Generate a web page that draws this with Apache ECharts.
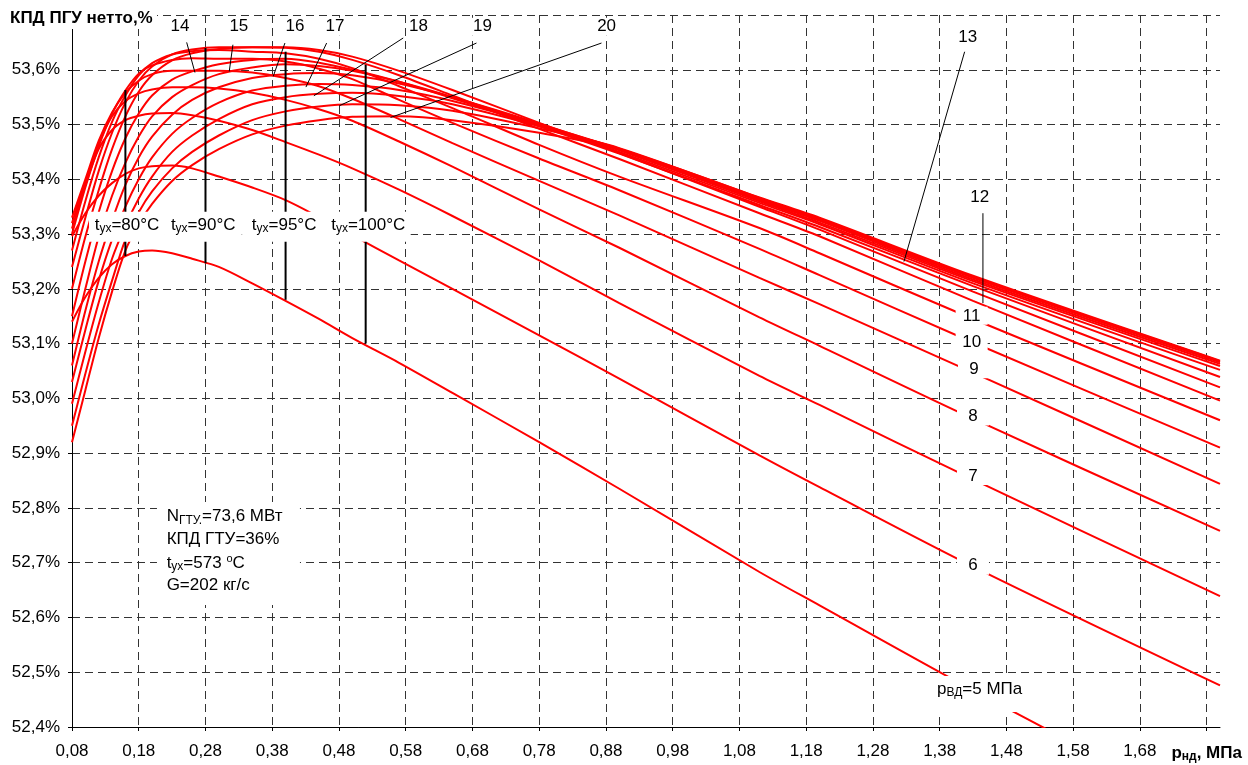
<!DOCTYPE html>
<html><head><meta charset="utf-8">
<script src="https://cdn.jsdelivr.net/npm/echarts@6/dist/echarts.min.js"></script>
<style>html,body{margin:0;padding:0;background:#fff}#c{width:1248px;height:765px}</style>
</head><body><div id="c"></div>
<script>
// ---------- DATA ----------
const pND = [0.08,0.10,0.12,0.14,0.16,0.18,0.20,0.23,0.26,0.30,0.35,0.40,0.45,0.50,0.57,0.65,0.78,0.90,1.11,1.20,1.43,1.80];
const kpdP5  = [53.14,53.185,53.22,53.245,53.26,53.268,53.27,53.265,53.255,53.24,53.21,53.178,53.145,53.11,53.065,53.01,52.92,52.835,52.683,52.622,52.467,52.23];
const kpdP6  = [53.296,53.338,53.37,53.393,53.41,53.42,53.424,53.425,53.42,53.405,53.385,53.362,53.331,53.298,53.252,53.2,53.115,53.036,52.896,52.838,52.693,52.476];
const kpdP7  = [53.31,53.39,53.455,53.49,53.508,53.516,53.52,53.521,53.517,53.507,53.49,53.468,53.445,53.42,53.381,53.333,53.252,53.174,53.041,52.988,52.852,52.639];
const kpdP8  = [53.32,53.395,53.465,53.515,53.543,53.557,53.564,53.568,53.568,53.566,53.558,53.545,53.528,53.507,53.469,53.423,53.345,53.275,53.148,53.096,52.963,52.758];
const kpdP9  = [53.33,53.40,53.47,53.522,53.558,53.58,53.592,53.598,53.598,53.598,53.595,53.585,53.57,53.547,53.51,53.466,53.397,53.334,53.220,53.172,53.047,52.844];
const kpdP10 = [53.30,53.385,53.46,53.52,53.562,53.593,53.608,53.618,53.621,53.62,53.62,53.615,53.602,53.583,53.545,53.503,53.438,53.38,53.273,53.225,53.102,52.910];
const kpdP11 = [53.27,53.36,53.44,53.505,53.553,53.59,53.612,53.628,53.634,53.636,53.633,53.63,53.62,53.603,53.57,53.53,53.463,53.405,53.311,53.265,53.145,52.960];
const kpdP12 = [53.24,53.33,53.415,53.485,53.54,53.58,53.606,53.628,53.637,53.641,53.641,53.64,53.633,53.618,53.59,53.553,53.492,53.437,53.338,53.296,53.178,52.996];
const kpdP13 = [53.20,53.295,53.38,53.455,53.515,53.56,53.59,53.617,53.63,53.638,53.641,53.641,53.636,53.624,53.598,53.563,53.503,53.448,53.35,53.308,53.195,53.020];
const kpdP14 = [53.15,53.25,53.34,53.415,53.475,53.52,53.553,53.582,53.597,53.61,53.618,53.62,53.613,53.60,53.578,53.548,53.497,53.447,53.353,53.313,53.205,53.039];
const kpdP15 = [53.10,53.20,53.295,53.37,53.43,53.478,53.515,53.55,53.572,53.592,53.604,53.61,53.607,53.598,53.578,53.55,53.50,53.45,53.357,53.318,53.21,53.052];
const kpdP16 = [53.06,53.16,53.25,53.325,53.39,53.44,53.478,53.518,53.545,53.568,53.585,53.592,53.594,53.59,53.575,53.55,53.502,53.453,53.36,53.321,53.214,53.059];
const kpdP17 = [53.03,53.125,53.215,53.29,53.35,53.40,53.44,53.483,53.512,53.54,53.562,53.571,53.574,53.572,53.563,53.543,53.50,53.455,53.362,53.324,53.217,53.063];
const kpdP18 = [52.99,53.085,53.175,53.255,53.315,53.365,53.405,53.45,53.48,53.51,53.537,53.55,53.556,53.558,53.552,53.537,53.497,53.456,53.364,53.326,53.22,53.066];
const kpdP19 = [52.95,53.045,53.135,53.215,53.29,53.34,53.378,53.42,53.45,53.48,53.508,53.524,53.533,53.537,53.535,53.525,53.493,53.457,53.366,53.328,53.222,53.068];
const kpdP20 = [52.92,53.015,53.11,53.195,53.27,53.318,53.355,53.397,53.426,53.455,53.482,53.498,53.508,53.514,53.515,53.508,53.485,53.455,53.367,53.33,53.224,53.069];
const curveNames = ['5','6','7','8','9','10','11','12','13','14','15','16','17','18','19','20'];
const curves = [kpdP5,kpdP6,kpdP7,kpdP8,kpdP9,kpdP10,kpdP11,kpdP12,kpdP13,kpdP14,kpdP15,kpdP16,kpdP17,kpdP18,kpdP19,kpdP20];

// constant exhaust-temperature lines (pНД, КПД from..to)
const tuxTemps = ['80','90','95','100'];
const tuxP     = [0.16, 0.28, 0.40, 0.52];
const tuxLow   = [53.260, 53.247, 53.180, 53.100];
const tuxHigh  = [53.563, 53.640, 53.633, 53.609];

// axis ranges
const xMin = 0.08, xMax = 1.80, xStep = 0.1;
const yMin = 52.4, yMax = 53.7, yStep = 0.1;

// ---------- ANNOTATIONS (data coordinates) ----------
const leaderFrom = {'12':[1.4448,53.3381],'13':[1.4174,53.6329],'14':[0.2518,53.650],'15':[0.3211,53.6457],'16':[0.399,53.6488],'17':[0.4615,53.6488],'18':[0.5762,53.658],'19':[0.686,53.6488],'20':[0.8733,53.6488]};
const leaderTo   = {'12':[1.4448,53.1739],'13':[1.3265,53.2499],'14':[0.2642,53.595],'15':[0.3156,53.5969],'16':[0.3815,53.5878],'17':[0.4305,53.5684],'18':[0.4424,53.5525],'19':[0.4803,53.5342],'20':[0.5573,53.5129]};
const numLabelAt = {'6':[1.4299,52.6946],'7':[1.4299,52.8583],'8':[1.4299,52.9669],'9':[1.4314,53.0532],'10':[1.4279,53.1023],'11':[1.4279,53.1507],
  '12':[1.4399,53.3677],'13':[1.4219,53.6584],'14':[0.2417,53.6785],'15':[0.330,53.6785],'16':[0.414,53.6785],'17':[0.474,53.6785],'18':[0.599,53.6785],'19':[0.695,53.6785],'20':[0.881,53.6785]};
const tuxLabelAt = [[0.1624,53.3169],[0.2766,53.3169],[0.3978,53.3169],[0.5238,53.3169]];
const pvdLabelAt = [1.4399,52.4694];
const infoAt = [0.2218, [52.7845,52.742,52.6993,52.659]];
const infoBox = [[0.2073,52.811],[0.4215,52.6228]];

// ---------- CHART ----------
const FONT = '"Liberation Sans", Arial, Helvetica, sans-serif';
const FS = 17, FSS = 12;
const chart = echarts.init(document.getElementById('c'));
const series = curves.map((vals, i) => ({
  type:'line', name:'pВД='+curveNames[i], data: pND.map((p,j)=>[p, vals[j]]),
  smooth:0.3, showSymbol:false, silent:true, clip:true,
  lineStyle:{color:'#ff0000', width:2}, z:2
}));
tuxP.forEach((p,i)=>series.push({type:'line', data:[[p,tuxLow[i]],[p,tuxHigh[i]]], showSymbol:false, silent:true,
  lineStyle:{color:'#000', width:2}, z:3}));
Object.keys(leaderFrom).forEach(k=>series.push({type:'line', data:[leaderFrom[k], leaderTo[k]], showSymbol:false, silent:true,
  lineStyle:{color:'#000', width:1}, z:3}));

const dash = {type:[8,5], color:'#333', width:1};
chart.setOption({
  animation:false,
  backgroundColor:'#fff',
  grid:{left:72, right:28, top:15, bottom:38, containLabel:false},
  xAxis:{type:'value', min:xMin, max:xMax, interval:xStep,
    axisLine:{lineStyle:{color:'#000', width:1}},
    axisTick:{show:true, length:4, inside:false, lineStyle:{color:'#000'}},
    splitLine:{show:true, showMaxLine:false, lineStyle:dash},
    axisLabel:{showMaxLabel:false, margin:16, fontSize:FS, fontFamily:FONT, color:'#000',
      formatter:v=>{const r=Math.round(v*100)/100; if (Math.abs(r-1.78)<1e-6) return '{b|p}{bs|нд}{b|, МПа}'; if (r>1.79) return ''; return r.toFixed(2).replace('.',',');},
      rich:{b:{fontSize:FS, fontWeight:'bold', fontFamily:FONT, color:'#000'}, bs:{fontSize:FSS, fontWeight:'bold', fontFamily:FONT, color:'#000', padding:[8,0,0,0]}}}
  },
  yAxis:{type:'value', min:yMin, max:yMax, interval:yStep,
    axisLine:{show:true, lineStyle:{color:'#000', width:1}},
    axisTick:{show:true, length:4, inside:false, lineStyle:{color:'#000'}},
    splitLine:{show:true, lineStyle:dash},
    axisLabel:{showMaxLabel:false, margin:12, fontSize:FS, fontFamily:FONT, color:'#000',
      formatter:v=>v.toFixed(1).replace('.',',')+'%'}
  },
  series
});

// ---------- TEXT ANNOTATIONS ----------
const px = (d)=>chart.convertToPixel({xAxisIndex:0, yAxisIndex:0}, d);
const R = {
  n:{fontSize:FS, fontFamily:FONT, fill:'#000'},
  s:{fontSize:FSS, fontFamily:FONT, fill:'#000', padding:[8,0,0,0]},
  sup:{fontSize:11, fontFamily:FONT, fill:'#000', padding:[0,0,9,0]},
  b:{fontSize:FS, fontFamily:FONT, fontWeight:'bold', fill:'#000'}
};
const g = [];
function box(cx, cy, w, h){ g.push({type:'rect', silent:true, z:50, shape:{x:cx-w/2, y:cy-h/2, width:w, height:h}, style:{fill:'#fff'}}); }
function txt(x, y, text, align){ g.push({type:'text', silent:true, z:51, x, y, style:{text, rich:R, fontSize:FS, fontFamily:FONT, fill:'#000', align:align||'center', verticalAlign:'middle'}}); }

// title
g.push({type:'rect', silent:true, z:50, shape:{x:0, y:0, width:157, height:29}, style:{fill:'#fff'}});
txt(10, 18.5, '{b|КПД ПГУ нетто,%}', 'left');

// t_ух labels
const tuxW = [76, 77, 84, 85];
tuxLabelAt.forEach((d,i)=>{const [x,y]=px(d); box(x, y+2, tuxW[i], 30); txt(x, y, '{n|t}{s|ух}{n|='+tuxTemps[i]+'°C}');});

// curve number labels
Object.keys(numLabelAt).forEach(k=>{const [x,y]=px(numLabelAt[k]); const n=+k;
  if (n<=11) box(x, y, 32, 18); else box(x, y, 24, 18);
  txt(x, y, '{n|'+k+'}');});

// p_ВД = 5 MPa
{const [x,y]=px(pvdLabelAt); box(x+0.5, y+5, 90, 36); txt(x, y, '{n|p}{s|ВД}{n|=5 МПа}');}

// info block
{const a=px(infoBox[0]), b=px(infoBox[1]); g.push({type:'rect', silent:true, z:50, shape:{x:a[0], y:a[1], width:b[0]-a[0], height:b[1]-a[1]}, style:{fill:'#fff'}});
 const rows=['{n|N}{s|ГТУ.}{n|=73,6 МВт}','{n|КПД ГТУ=36%}','{n|t}{s|ух}{n|=573 }{sup|o}{n|C}','{n|G=202 кг/с}'];
 rows.forEach((r,i)=>{const [x,y]=px([infoAt[0], infoAt[1][i]]); txt(x, y, r, 'left');});}

chart.setOption({graphic:{elements:g}});
</script></body></html>
